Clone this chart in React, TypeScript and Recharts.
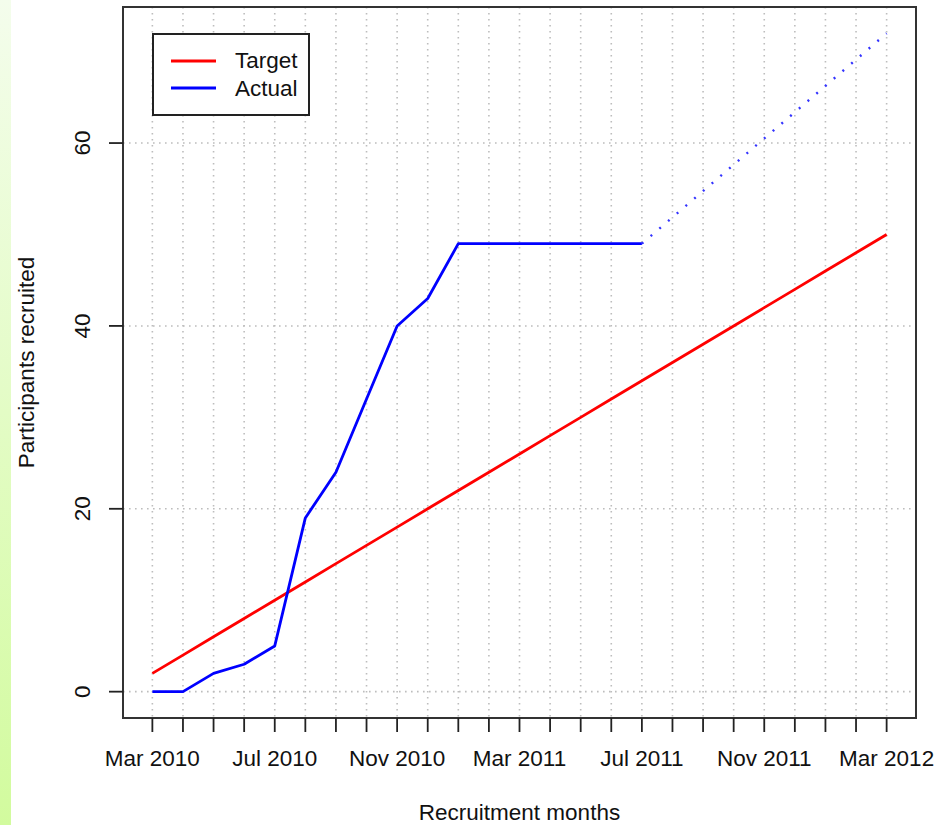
import { LineChart, Line, XAxis, YAxis, CartesianGrid, ReferenceArea, Legend, Label } from 'recharts'

const months = [
	'Mar 2010', 'Apr 2010', 'May 2010', 'Jun 2010', 'Jul 2010', 'Aug 2010', 'Sep 2010',
	'Oct 2010', 'Nov 2010', 'Dec 2010', 'Jan 2011', 'Feb 2011', 'Mar 2011', 'Apr 2011',
	'May 2011', 'Jun 2011', 'Jul 2011', 'Aug 2011', 'Sep 2011', 'Oct 2011', 'Nov 2011',
	'Dec 2011', 'Jan 2012', 'Feb 2012', 'Mar 2012',
]

const target = [2, 4, 6, 8, 10, 12, 14, 16, 18, 20, 22, 24, 26, 28, 30, 32, 34, 36, 38, 40, 42, 44, 46, 48, 50]

const actual = [
	0, 0, 2, 3, 5, 19, 24, 32, 40, 43, 49, 49, 49, 49, 49, 49, 49,
	null, null, null, null, null, null, null, null,
]

// projection from the last recruited count to the end of the period
const projected = [
	null, null, null, null, null, null, null, null, null, null, null, null, null, null, null, null,
	49, null, null, null, null, null, null, null, 72,
]

const yTicks = [0, 20, 40, 60]

const data = months.map((month, i) => ({
	idx: i,
	month,
	target: target[i],
	actual: actual[i],
	projected: projected[i],
}))

// R-style 4% padding on both axes
const xDomain = [-0.96, 24.96]
const yDomain = [-2.88, 74.88]

const FONT = '"Liberation Sans", Arial, Helvetica, sans-serif'
const FS = 22.5

const XTick = ({ x, y, payload }: any) => {
	const i = payload.value
	if (i % 4 !== 0) return null
	return (
		<text x={x} y={y + 34} textAnchor='middle' fontSize={FS} fontFamily={FONT} fill='#111'>
			{months[i]}
		</text>
	)
}

const YTick = ({ x, y, payload }: any) => {
	const tx = x - 19
	return (
		<text
			x={tx}
			y={y}
			transform={`rotate(-90 ${tx} ${y})`}
			textAnchor='middle'
			fontSize={FS}
			fontFamily={FONT}
			fill='#111'
		>
			{payload.value}
		</text>
	)
}

const LegendBox = () => (
	<svg width={158} height={83} style={{ display: 'block' }}>
		<rect x={1} y={1} width={156} height={81} fill='#fff' stroke='#222' strokeWidth={2} />
		<line x1={19} y1={28} x2={64} y2={28} stroke='#ff0000' strokeWidth={2.8} />
		<line x1={19} y1={55} x2={64} y2={55} stroke='#0000ff' strokeWidth={2.8} />
		<text x={83} y={35} fontSize={FS} fontFamily={FONT} fill='#111'>Target</text>
		<text x={83} y={63} fontSize={FS} fontFamily={FONT} fill='#111'>Actual</text>
	</svg>
)

const XTitle = ({ viewBox }: any) => (
	<text
		x={viewBox.x + viewBox.width / 2}
		y={viewBox.y + viewBox.height - 5}
		textAnchor='middle'
		fontSize={FS}
		fontFamily={FONT}
		fill='#111'
	>
		Recruitment months
	</text>
)

const YTitle = ({ viewBox }: any) => {
	const tx = 34
	const ty = viewBox.y + viewBox.height / 2
	return (
		<text
			x={tx}
			y={ty}
			transform={`rotate(-90 ${tx} ${ty})`}
			textAnchor='middle'
			fontSize={FS}
			fontFamily={FONT}
			fill='#111'
		>
			Participants recruited
		</text>
	)
}

const App = () => {
	return (
		<div
			style={{
				position: 'absolute',
				left: 0,
				top: 0,
				width: 951,
				height: 825,
				background: '#fff',
				fontFamily: FONT,
				overflow: 'hidden',
			}}
		>
			<div
				style={{
					position: 'absolute',
					left: 0,
					top: 0,
					width: 11,
					height: 825,
					background: 'linear-gradient(to bottom, #f4fdec, #d2fb9e)',
				}}
			/>
			<LineChart width={951} height={825} data={data} margin={{ top: 7, right: 35, bottom: 0, left: 0 }}>
				<CartesianGrid stroke='#bdbdbd' strokeWidth={1.6} strokeDasharray='1.6 4.4' />
				<XAxis
					dataKey='idx'
					type='number'
					domain={xDomain}
					ticks={months.map((_, i) => i)}
					interval={0}
					height={107}
					axisLine={false}
					tickSize={14}
					tickMargin={0}
					tickLine={{ stroke: '#222', strokeWidth: 1.8 }}
					tick={<XTick />}
					allowDataOverflow
				>
					<Label content={<XTitle />} />
				</XAxis>
				<YAxis
					type='number'
					domain={yDomain}
					ticks={yTicks}
					interval={0}
					width={123}
					axisLine={false}
					tickSize={14}
					tickMargin={0}
					tickLine={{ stroke: '#222', strokeWidth: 1.8 }}
					tick={<YTick />}
					allowDataOverflow
				>
					<Label content={<YTitle />} />
				</YAxis>
				<ReferenceArea
					x1={xDomain[0]}
					x2={xDomain[1]}
					y1={yDomain[0]}
					y2={yDomain[1]}
					fill='none'
					stroke='#333'
					strokeWidth={2}
				/>
				<Line
					dataKey='target'
					stroke='#ff0000'
					strokeWidth={2.8}
					dot={false}
					activeDot={false}
					isAnimationActive={false}
				/>
				<Line
					dataKey='actual'
					stroke='#0000ff'
					strokeWidth={2.8}
					dot={false}
					activeDot={false}
					strokeLinejoin='round'
					isAnimationActive={false}
				/>
				<Line
					dataKey='projected'
					stroke='#3333ff'
					strokeWidth={2.4}
					strokeDasharray='2 9.5'
					connectNulls
					dot={false}
					activeDot={false}
					isAnimationActive={false}
				/>
				<Legend
					layout='vertical'
					align='center'
					verticalAlign='middle'
					content={<LegendBox />}
					wrapperStyle={{ left: 152, top: 33, width: 158, height: 83 }}
				/>
			</LineChart>
		</div>
	)
}

export default App
